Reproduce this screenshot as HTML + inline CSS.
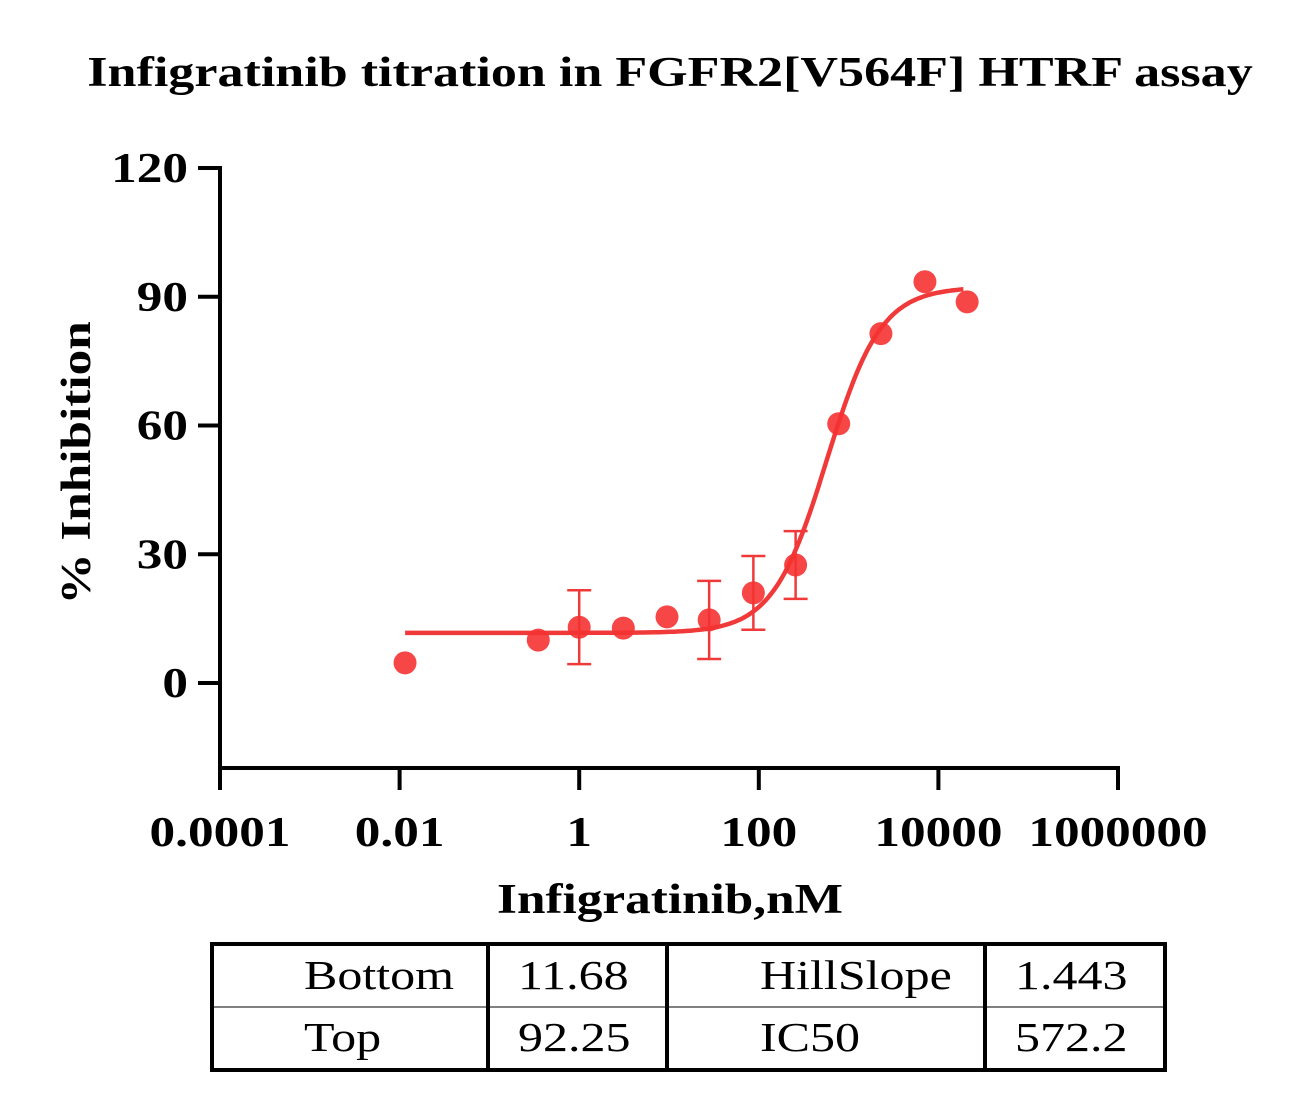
<!DOCTYPE html>
<html><head><meta charset="utf-8"><style>
html,body{margin:0;padding:0;background:#fff;}
svg{display:block;font-family:"Liberation Serif",serif;}
</style></head><body>
<svg id="chart" width="1295" height="1101" viewBox="0 0 1295 1101">
<text x="670" y="86" text-anchor="middle" font-size="42" font-weight="bold" data-s="1.24">Infigratinib titration in FGFR2[V564F] HTRF assay</text>
<g id="axes"></g>
<g id="series"></g>
<text transform="translate(90,463) rotate(-90)" text-anchor="middle" font-size="42" font-weight="bold">% Inhibition</text>
<text x="670" y="913" text-anchor="middle" font-size="42" font-weight="bold">Infigratinib,nM</text>
<g>
<rect x="212" y="944" width="953" height="126" fill="none" stroke="#000" stroke-width="4"/>
<line x1="212" y1="1007" x2="1165" y2="1007" stroke="#000" stroke-width="1"/>
<line x1="488" y1="944" x2="488" y2="1070" stroke="#000" stroke-width="4"/>
<line x1="667" y1="944" x2="667" y2="1070" stroke="#000" stroke-width="4"/>
<line x1="985" y1="944" x2="985" y2="1070" stroke="#000" stroke-width="4"/>
<g font-size="41">
<text x="304" y="989">Bottom</text>
<text x="518" y="989">11.68</text>
<text x="760" y="989">HillSlope</text>
<text x="1015" y="989">1.443</text>
<text x="304" y="1051">Top</text>
<text x="518" y="1051">92.25</text>
<text x="760" y="1051">IC50</text>
<text x="1015" y="1051">572.2</text>
</g></g>
</svg>
<script>
const yTicks=[120,90,60,30,0];
const xTickVals=[0.0001,0.01,1,100,10000,1000000];
const xTickLabels=["0.0001","0.01","1","100","10000","1000000"];
const concs=[0.0115,0.35,1,3.1,9.5,28,87,257,776,2290,7080,20900];
const inhib=[4.7,10,13,12.8,15.4,14.7,21,27.5,60.4,81.4,93.5,88.8];
const errs=[0,0,8.6,0,0,9.1,8.6,7.9,0,0,0,0];
const fitBottom=11.68, fitTop=92.25, fitIC50=572.2, fitHill=1.443;
const NS="http://www.w3.org/2000/svg";
const X0=220,X1=1118,Y0=768,Y1=168;
function xs(v){return X0+(Math.log10(v)+4)/10*(X1-X0);}
function ys(v){return 683-v*(683-168)/120;}
function mk(t,a,p){const e=document.createElementNS(NS,t);for(const k in a)e.setAttribute(k,a[k]);p.appendChild(e);return e;}
const ax=document.getElementById('axes'), se=document.getElementById('series');
let l=mk('line',{x1:X0,y1:Y1-2,x2:X0,y2:Y0+2,stroke:'#000','stroke-width':4},ax);


l=mk('line',{x1:X0-2,y1:Y0,x2:X1+2,y2:Y0,stroke:'#000','stroke-width':4},ax);


yTicks.forEach(v=>{
 const y=ys(v);
 mk('line',{x1:X0-22,y1:y,x2:X0,y2:y,stroke:'#000','stroke-width':4},ax);
 const t=mk('text',{x:X0-32,y:y+14,'text-anchor':'end','font-size':42,'font-weight':'bold'},ax);
 t.textContent=v;
 
 
});
xTickVals.forEach((v,i)=>{
 const x=xs(v);
 mk('line',{x1:x,y1:Y0,x2:x,y2:Y0+22,stroke:'#000','stroke-width':4},ax);
 const t=mk('text',{x:x,y:Y0+78,'text-anchor':'middle','font-size':42,'font-weight':'bold'},ax);
 t.textContent=xTickLabels[i];
 
 
});
let d='';const lo=Math.log10(concs[0]),hi=Math.log10(19000);
for(let i=0;i<=200;i++){const lx=lo+(hi-lo)*i/200;const c=Math.pow(10,lx);
 const y=fitBottom+(fitTop-fitBottom)/(1+Math.pow(fitIC50/c,fitHill));
 d+=(i?'L':'M')+xs(c).toFixed(1)+' '+ys(y).toFixed(1);}
const p=mk('path',{d:d,fill:'none',stroke:'#f03a3a','stroke-width':4.5},se);


concs.forEach((c,i)=>{
 const x=xs(c),y=ys(inhib[i]);
 if(errs[i]>0){
  const g=mk('g',{stroke:'#f03a3a','stroke-width':2.5},se);
  
  
  mk('line',{x1:x,y1:ys(inhib[i]+errs[i]),x2:x,y2:ys(inhib[i]-errs[i])},g);
  mk('line',{x1:x-12,y1:ys(inhib[i]+errs[i]),x2:x+12,y2:ys(inhib[i]+errs[i])},g);
  mk('line',{x1:x-12,y1:ys(inhib[i]-errs[i]),x2:x+12,y2:ys(inhib[i]-errs[i])},g);
 }
 const ci=mk('circle',{cx:x,cy:y,r:11.5,fill:'#f53232','fill-opacity':0.9},se);
 
 
});
document.querySelectorAll('text').forEach(t=>{
 const f=parseFloat(t.getAttribute('data-s')||'1.22');
 const len=t.getComputedTextLength();
 t.setAttribute('textLength',(len*f).toFixed(1));
 t.setAttribute('lengthAdjust','spacingAndGlyphs');
});
</script>
</body></html>
